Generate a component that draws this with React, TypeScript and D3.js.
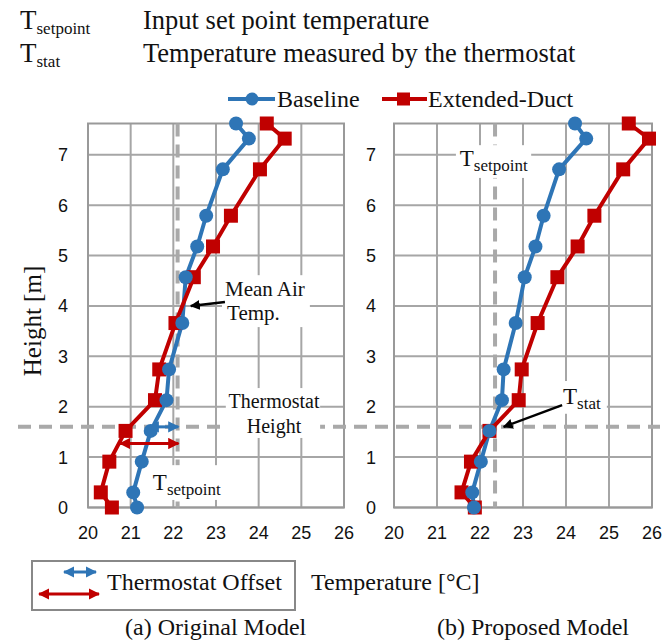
import * as d3 from 'd3';

// heights of the measurement points (m) — 0..25 ft
const heights = [0, 0.3, 0.91, 1.52, 2.13, 2.74, 3.66, 4.57, 5.18, 5.79, 6.71, 7.32, 7.62];

// (a) original model
const origBaseline = [21.15, 21.06, 21.26, 21.47, 21.84, 21.9, 22.21, 22.29, 22.56, 22.77, 23.16, 23.77, 23.47];
const origExtended = [20.56, 20.3, 20.5, 20.88, 21.57, 21.67, 22.05, 22.48, 22.93, 23.35, 24.03, 24.61, 24.19];

// (b) proposed model
const propBaseline = [21.86, 21.82, 22.02, 22.22, 22.51, 22.55, 22.83, 23.04, 23.29, 23.48, 23.84, 24.47, 24.21];
const propExtended = [21.88, 21.57, 21.79, 22.22, 22.9, 22.97, 23.34, 23.8, 24.27, 24.66, 25.33, 25.93, 25.46];

const xTicks = [20, 21, 22, 23, 24, 25, 26];
const yTicks = [0, 1, 2, 3, 4, 5, 6, 7];
const setpoints = [22.1, 22.35];
const thermostatHeight = 1.6;

const W = 665, H = 643;
const BLUE = '#2e75b6', RED = '#c00000', GRID = '#a6a6a6', DASH = '#a9a9a9';
const SERIF = '"Liberation Serif", "Times New Roman", serif';
const SANS = '"Liberation Sans", Arial, sans-serif';

const y = d3.scaleLinear().domain([0, 7.62]).range([507.5, 123.5]);
const panels = [
  { key: 'a', x: d3.scaleLinear().domain([20, 26]).range([88, 344]), base: origBaseline, ext: origExtended, setpoint: setpoints[0], yLab: 68 },
  { key: 'b', x: d3.scaleLinear().domain([20, 26]).range([394, 652]), base: propBaseline, ext: propExtended, setpoint: setpoints[1], yLab: 376 },
];

function Sub({ main, sub, x, y, size = 23, subSize = 17 }: any) {
  return (
    <text x={x} y={y} fontFamily={SERIF} fontSize={size} fill="#111">
      <tspan>{main}</tspan>
      <tspan fontSize={subSize} dy={5}>{sub}</tspan>
    </text>
  );
}

function WhiteBox({ x, x0, x1, y0, y1 }: any) {
  return <rect x={x(x0)} y={y(y0)} width={x(x1) - x(x0)} height={y(y1) - y(y0)} fill="#fff" />;
}

export default function App() {
  const [pa, pb] = panels;
  return (
    <svg width={W} height={H} style={{ position: 'absolute', left: 0, top: 0, background: '#fff' }}>
      <defs>
        <marker id="ahBlack" viewBox="0 0 10 10" refX="9" refY="5" markerWidth="4" markerHeight="4" orient="auto-start-reverse" markerUnits="strokeWidth">
          <path d="M0,0 L10,5 L0,10 z" fill="#000" />
        </marker>
        <marker id="ahBlue" viewBox="0 0 10 10" refX="9" refY="5" markerWidth="3.8" markerHeight="3.8" orient="auto-start-reverse" markerUnits="strokeWidth">
          <path d="M0,0 L10,5 L0,10 z" fill={BLUE} />
        </marker>
        <marker id="ahRed" viewBox="0 0 10 10" refX="9" refY="5" markerWidth="3.8" markerHeight="3.8" orient="auto-start-reverse" markerUnits="strokeWidth">
          <path d="M0,0 L10,5 L0,10 z" fill={RED} />
        </marker>
      </defs>

      {/* header definitions */}
      <Sub main="T" sub="setpoint" x={20} y={29} size={27} subSize={17} />
      <text x={143} y={29} fontFamily={SERIF} fontSize={26.5} fill="#111">Input set point temperature</text>
      <Sub main="T" sub="stat" x={20} y={62} size={27} subSize={17} />
      <text x={143} y={62} fontFamily={SERIF} fontSize={26.5} fill="#111">Temperature measured by the thermostat</text>

      {/* legend */}
      <line x1={228} x2={275} y1={99} y2={99} stroke={BLUE} strokeWidth={4} />
      <circle cx={252} cy={99} r={6.5} fill={BLUE} />
      <text x={277} y={107} fontFamily={SERIF} fontSize={24} fill="#111">Baseline</text>
      <line x1={382} x2={427} y1={99} y2={99} stroke={RED} strokeWidth={4} />
      <rect x={397} y={92.5} width={13} height={13} fill={RED} />
      <text x={428} y={107} fontFamily={SERIF} fontSize={24} fill="#111">Extended-Duct</text>

      {/* grids */}
      {panels.map(p => (
        <g key={'g' + p.key}>
          {xTicks.map(t => (
            <line key={t} x1={p.x(t)} x2={p.x(t)} y1={y(0)} y2={y(7.62)} stroke={GRID} strokeWidth={2} />
          ))}
          {yTicks.map(t => (
            <line key={t} x1={p.x(20)} x2={p.x(26)} y1={y(t)} y2={y(t)} stroke={GRID} strokeWidth={2} />
          ))}
          <rect x={p.x(20)} y={y(7.62)} width={p.x(26) - p.x(20)} height={y(0) - y(7.62)} fill="none" stroke="#999" strokeWidth={2} />
          {xTicks.map(t => (
            <text key={'xl' + t} x={p.x(t)} y={539} textAnchor="middle" fontFamily={SANS} fontSize={18} fill="#111">{t}</text>
          ))}
          {yTicks.map(t => (
            <text key={'yl' + t} x={p.yLab} y={y(t) + 6.5} textAnchor="end" fontFamily={SANS} fontSize={18} fill="#111">{t}</text>
          ))}
        </g>
      ))}

      {/* set point and thermostat height */}
      {panels.map(p => (
        <line key={'sp' + p.key} x1={p.x(p.setpoint)} x2={p.x(p.setpoint)} y1={y(7.62)} y2={y(0)}
          stroke={DASH} strokeWidth={4} strokeDasharray="13 8" />
      ))}
      <line x1={18} x2={660} y1={y(thermostatHeight)} y2={y(thermostatHeight)} stroke={DASH} strokeWidth={4} strokeDasharray="13 8" />

      {/* label backgrounds */}
      <WhiteBox x={pa.x} x0={23.14} x1={25.2} y0={4.61} y1={3.58} />
      <WhiteBox x={pa.x} x0={23.23} x1={25.44} y0={2.37} y1={1.38} />
      <WhiteBox x={pa.x} x0={21.45} x1={23.14} y0={0.84} y1={0.15} />
      <WhiteBox x={pb.x} x0={21.44} x1={23.19} y0={7.19} y1={6.54} />
      <WhiteBox x={pb.x} x0={23.84} x1={24.95} y0={2.51} y1={1.86} />

      {/* series */}
      {panels.map(p => {
        const line = d3.line<number>().x(d => p.x(d)).y((_, i) => y(heights[i]));
        return (
          <g key={'s' + p.key}>
            <path d={line(p.base) || ''} fill="none" stroke={BLUE} strokeWidth={4} strokeLinejoin="round" />
            <path d={line(p.ext) || ''} fill="none" stroke={RED} strokeWidth={4} strokeLinejoin="round" />
            {p.ext.map((v, i) => (
              <rect key={'r' + i} x={p.x(v) - 7} y={y(heights[i]) - 7} width={14} height={14} fill={RED} />
            ))}
            {p.base.map((v, i) => (
              <circle key={'c' + i} cx={p.x(v)} cy={y(heights[i])} r={7} fill={BLUE} />
            ))}
          </g>
        );
      })}

      {/* annotations: original model */}
      <line x1={pa.x(21.42)} x2={pa.x(22.12)} y1={y(1.6)} y2={y(1.6)} stroke={BLUE} strokeWidth={3}
        markerStart="url(#ahBlue)" markerEnd="url(#ahBlue)" />
      <line x1={pa.x(20.75)} x2={pa.x(22.12)} y1={y(1.27)} y2={y(1.27)} stroke={RED} strokeWidth={3}
        markerStart="url(#ahRed)" markerEnd="url(#ahRed)" />
      <text x={pa.x(23.21)} y={y(4.2)} fontFamily={SERIF} fontSize={21} fill="#111">Mean Air</text>
      <text x={pa.x(23.26)} y={y(3.72)} fontFamily={SERIF} fontSize={21} fill="#111">Temp.</text>
      <line x1={pa.x(23.21)} y1={y(4.08)} x2={pa.x(22.41)} y2={y(4.0)} stroke="#000" strokeWidth={2.5} markerEnd="url(#ahBlack)" />
      <text x={pa.x(24.36)} y={y(1.97)} textAnchor="middle" fontFamily={SERIF} fontSize={20} fill="#111">Thermostat</text>
      <text x={pa.x(24.36)} y={y(1.48)} textAnchor="middle" fontFamily={SERIF} fontSize={20} fill="#111">Height</text>
      <Sub main="T" sub="setpoint" x={pa.x(21.52)} y={y(0.35)} />

      {/* annotations: proposed model */}
      <Sub main="T" sub="setpoint" x={pb.x(21.53)} y={y(6.78)} />
      <Sub main="T" sub="stat" x={pb.x(23.93)} y={y(2.05)} />
      <line x1={pb.x(23.91)} y1={y(2.03)} x2={pb.x(22.55)} y2={y(1.6)} stroke="#000" strokeWidth={2.5} markerEnd="url(#ahBlack)" />

      {/* axis title */}
      <text transform="translate(41,321) rotate(-90)" textAnchor="middle" fontFamily={SERIF} fontSize={25} fill="#111">Height [m]</text>

      {/* bottom legend box and captions */}
      <rect x={32} y={561} width={263} height={49} fill="none" stroke="#888" strokeWidth={2} />
      <line x1={64} x2={96} y1={572} y2={572} stroke={BLUE} strokeWidth={3} markerStart="url(#ahBlue)" markerEnd="url(#ahBlue)" />
      <line x1={39} x2={99} y1={594} y2={594} stroke={RED} strokeWidth={3} markerStart="url(#ahRed)" markerEnd="url(#ahRed)" />
      <text x={107} y={590} fontFamily={SERIF} fontSize={24} fill="#111">Thermostat Offset</text>
      <text x={311} y={590} fontFamily={SERIF} fontSize={24} fill="#111">Temperature [°C]</text>
      <text x={125} y={635} fontFamily={SERIF} fontSize={24} fill="#111">(a) Original Model</text>
      <text x={437} y={635} fontFamily={SERIF} fontSize={24} fill="#111">(b) Proposed Model</text>
    </svg>
  );
}
